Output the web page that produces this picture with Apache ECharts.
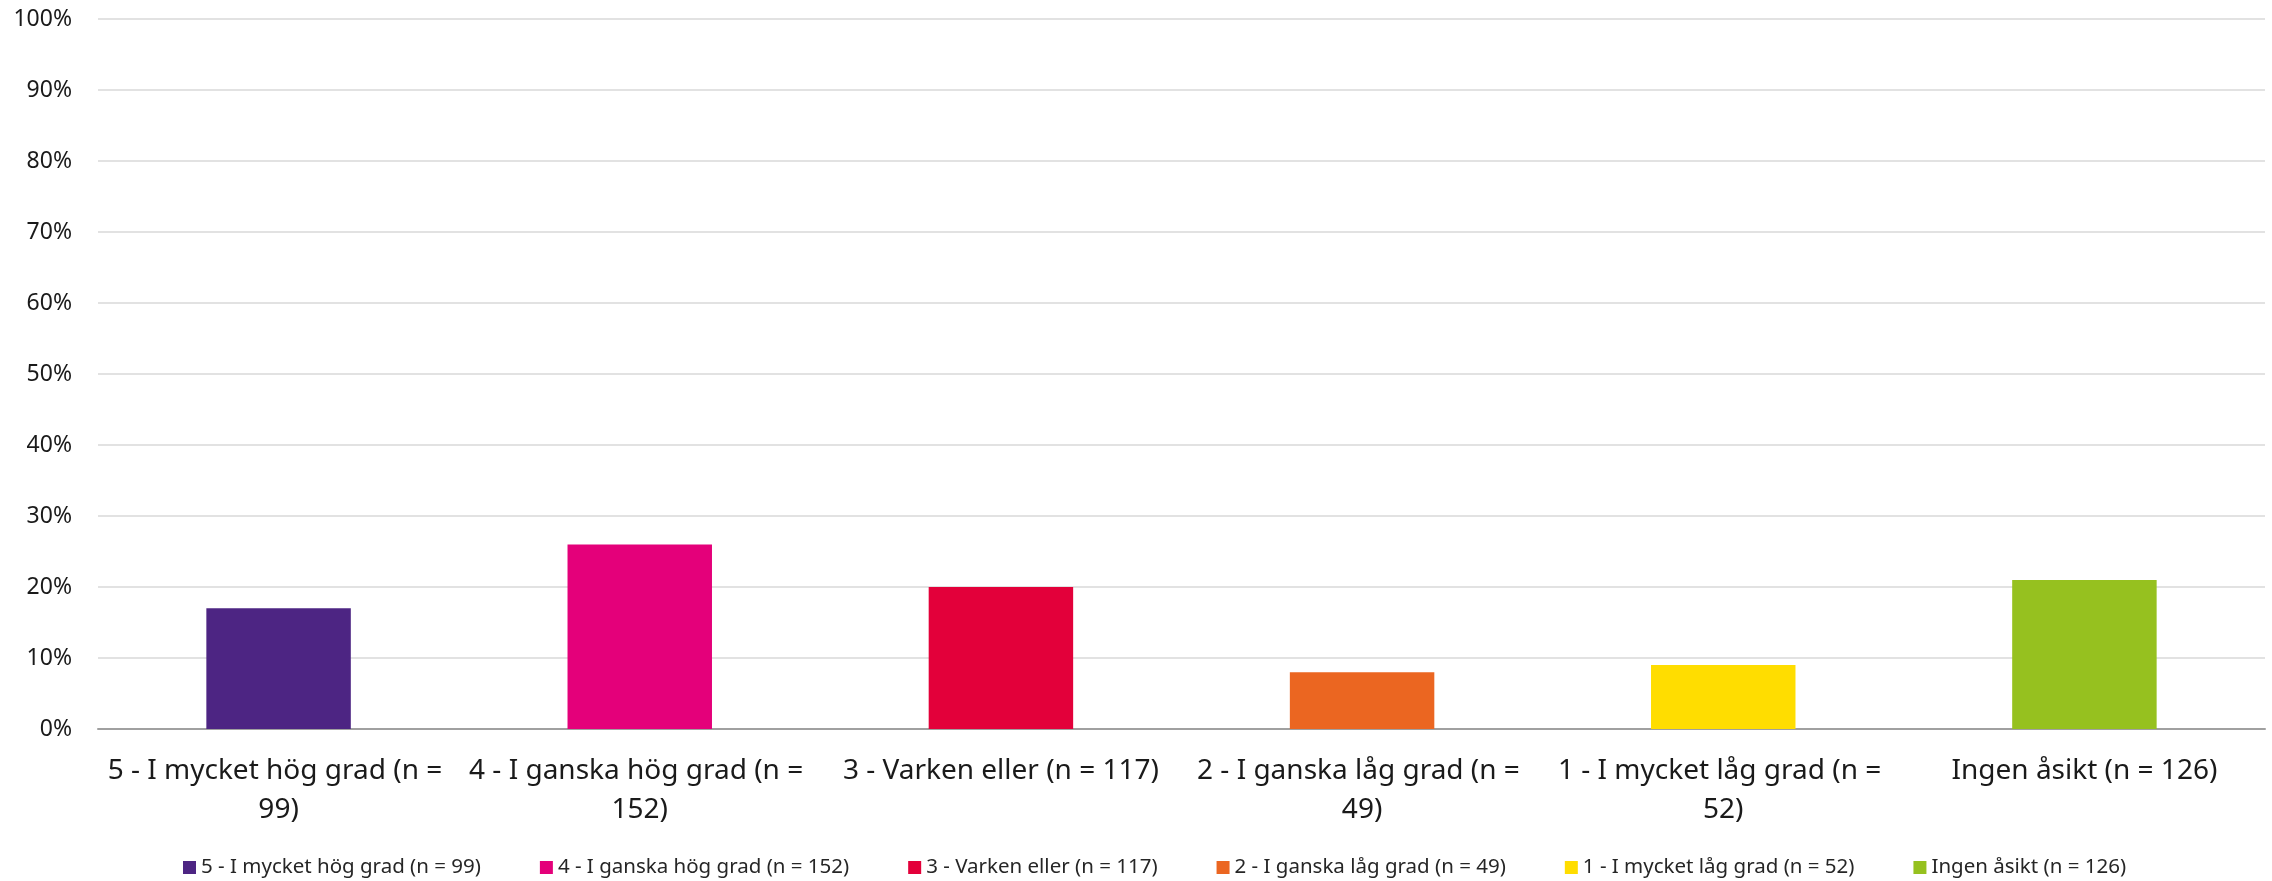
<!DOCTYPE html>
<html>
<head>
<meta charset="utf-8">
<script src="https://cdn.jsdelivr.net/npm/echarts@6/dist/echarts.min.js"></script>
<style>
  html, body { margin: 0; padding: 0; background: #fff; }
  #chart { width: 2272px; height: 881px; }
</style>
</head>
<body>
<div id="chart"></div>
<script>
// kategorier och andelar (procent)
const categories = [
  "5 - I mycket hög grad (n = 99)",
  "4 - I ganska hög grad (n = 152)",
  "3 - Varken eller (n = 117)",
  "2 - I ganska låg grad (n = 49)",
  "1 - I mycket låg grad (n = 52)",
  "Ingen åsikt (n = 126)"
];
const shares = [17, 26, 20, 8, 9, 21];
const colors = ["#4D2583", "#E4007A", "#E3003A", "#EB6621", "#FFDD00", "#96C11F"];
const yTicks = [0, 10, 20, 30, 40, 50, 60, 70, 80, 90, 100];

const chart = echarts.init(document.getElementById("chart"));

// en serie per kategori så att legenden visar alla
const series = categories.map((name, i) => ({
  name: name,
  type: "bar",
  stack: "all",
  barWidth: "40%",
  itemStyle: { color: colors[i] },
  data: categories.map((c, j) => (j === i ? shares[i] : null))
}));

chart.setOption({
  animation: false,
  textStyle: { fontFamily: "Noto Sans" },
  grid: { left: 98, right: 7, top: 19, bottom: 152 },
  legend: {
    top: 852,
    left: 178,
    itemWidth: 13,
    itemHeight: 13,
    itemGap: 59,
    icon: "rect",
    textStyle: { fontSize: 20.5, color: "#262626", fontFamily: "Noto Sans" },
    data: categories
  },
  xAxis: {
    type: "category",
    data: categories,
    axisTick: { show: false },
    axisLine: { lineStyle: { color: "#a0a0a0", width: 2 } },
    axisLabel: {
      interval: 0,
      margin: 23,
      fontSize: 28,
      lineHeight: 39,
      color: "#1a1a1a",
      width: 358,
      overflow: "break"
    }
  },
  yAxis: {
    type: "value",
    min: 0,
    max: 100,
    interval: 10,
    axisLine: { show: false },
    axisTick: { show: false },
    splitLine: { lineStyle: { color: "#d9d9d9", width: 1.5 } },
    axisLabel: {
      margin: 26,
      fontSize: 23,
      color: "#1a1a1a",
      formatter: v => (yTicks.includes(v) ? v + "%" : "")
    }
  },
  series: series
});
</script>
</body>
</html>
